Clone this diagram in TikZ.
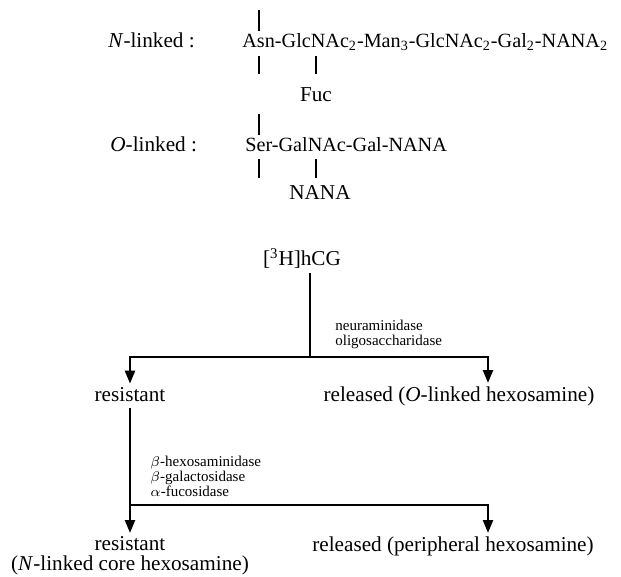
\documentclass[tikz,border=0pt]{standalone}
\usepackage{fontspec}
\setmainfont{Liberation Serif}
\usetikzlibrary{arrows.meta}

\begin{document}
\begin{tikzpicture}[x=0.5pt,y=-0.5pt,
  bond/.style={line width=1.1pt},
  flow/.style={line width=1.2pt},
  flowarrow/.style={flow,-{Triangle[length=6.5pt,width=5pt]}},
  body/.style={font=\fontsize{10.6}{12.7}\selectfont},
  lbl/.style={body,inner sep=1.5pt,text height=7pt,text depth=2pt},
  chain/.style={lbl,font=\fontsize{10.1}{12}\selectfont,anchor=base west},
  enzyme/.style={font=\fontsize{7.5}{7.3}\selectfont,align=left,inner sep=0pt,anchor=north west}]
  \useasboundingbox (0,0) rectangle (621,577);

  % Draw the N-linked chain
  \node[lbl,anchor=base west] (nlab) at (105,48) {\textit{N}-linked :};
  \node[chain] (nchain) at (239,48) {Asn-GlcNAc\textsubscript{2}-Man\textsubscript{3}-GlcNAc\textsubscript{2}-Gal\textsubscript{2}-NANA\textsubscript{2}};
  \node[lbl,anchor=base] (fuc) at (316,102) {Fuc};

  \draw[bond] (259,10) -- (259,31);
  \draw[bond] (259,56) -- (259,74);
  \draw[bond] (316,56) -- (316,74);

  % Draw the O-linked chain
  \node[lbl,anchor=base west] (olab) at (107,152) {\textit{O}-linked :};
  \node[chain] (ochain) at (242,152) {Ser-GalNAc-Gal-NANA};
  \node[lbl,anchor=base] (nana) at (320,200) {NANA};

  \draw[bond] (259,114) -- (259,135);
  \draw[bond] (259,159) -- (259,178);
  \draw[bond] (316,159) -- (316,178);

  % First digestion
  \node[lbl,anchor=base] (hcg) at (302,266) {[\textsuperscript{3}H]hCG};
  \coordinate (fork1) at (310,357);
  \coordinate (tipB) at (488,383);
  \node[enzyme] (enz1) at (335,320) {neuraminidase\\oligosaccharidase};
  \node[lbl,anchor=base] (res1) at (130,401) {resistant};
  \node[lbl,anchor=base] (rel1) at (459,401) {released (\textit{O}-linked hexosamine)};

  \draw[flow] (hcg.south -| fork1) -- (fork1);
  \draw[flowarrow] (fork1) -| (res1.north);
  \draw[flowarrow] (fork1) -| (tipB);

  % Second digestion
  \coordinate (fork2) at (130,505);
  \coordinate (tipD) at (488,533);
  \node[enzyme] (enz2) at (150,456) {$\beta$-hexosaminidase\\$\beta$-galactosidase\\$\alpha$-fucosidase};
  \node[body,font=\fontsize{10.6}{10}\selectfont,align=center,anchor=north,inner sep=1.5pt] (res2) at (130,533) {resistant\\(\textit{N}-linked core hexosamine)};
  \node[lbl,anchor=base] (rel2) at (453,551) {released (peripheral hexosamine)};

  \draw[flowarrow] (res1.south) -- (res2.north);
  \draw[flowarrow] (fork2) -| (tipD);

\end{tikzpicture}
\end{document}
